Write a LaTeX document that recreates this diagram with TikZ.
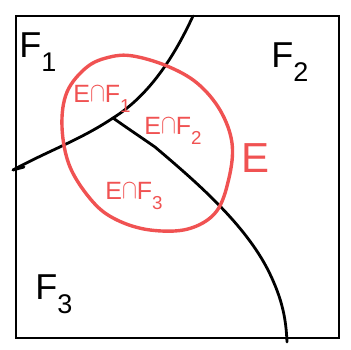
\documentclass[tikz,border=0pt]{standalone}
\usepackage{fontspec}
\setmainfont{Liberation Sans}
\newcommand\mysub[1]{\raisebox{-0.4em}{\fontsize{0.75em}{0.75em}\selectfont #1}}
\newcommand\mycap{\raisebox{0.05em}{\scalebox{0.9}[1.1]{$\cap$}}}
\begin{document}
\begin{tikzpicture}[x=1pt,y=-1pt,
  ink/.style={line width=2.8pt,line cap=round,line join=round},
  redink/.style={draw={rgb,255:red,240;green,82;blue,82},line width=3.4pt,line cap=round},
  blk/.style={font=\fontsize{36}{36}\selectfont,inner sep=0pt},
  rlab/.style={text={rgb,255:red,240;green,82;blue,82},font=\fontsize{25}{25}\selectfont,inner sep=0pt}]
\useasboundingbox (0,0) rectangle (351,350);
\node[draw,line width=2.4pt,minimum width=323pt,minimum height=322pt,anchor=north west,inner sep=0pt] (box) at (15,15) {};
\coordinate (a1) at (193,16);
\coordinate (a2) at (13,170);
\coordinate (j) at (113,118);
\coordinate (b2) at (287,342);
\draw[ink] (a1) .. controls (175,55) and (150,95) .. (j)
  .. controls (80,140) and (50,150) .. (a2);
\draw[ink] (13,170) -- (24,167);
\draw[ink] (j) .. controls (130,130) and (145,140) .. (155,147)
  .. controls (200,185) and (245,225) .. (268,270)
  .. controls (283,300) and (286,320) .. (b2);
\draw[redink] plot[smooth cycle,tension=0.6] coordinates {(133,56) (167,66) (197,83) (220,110) (232,143) (229,178) (216,212) (188,229) (150,230) (117,220) (93,202) (70,167) (62,127) (67,92) (87,67) (110,57)};
\node[blk] (f1) at (38,52) {F\mysub{1}};
\node[blk] (f2) at (290,62) {F\mysub{2}};
\node[blk] (f3) at (54,294) {F\mysub{3}};
\node[text={rgb,255:red,240;green,82;blue,82},font=\fontsize{42}{42}\selectfont,inner sep=0pt] (e) at (256,158) {E};
\node[rlab] (l1) at (102,99) {E\mycap F\mysub{1}};
\node[rlab] (l2) at (173,131) {E\mycap F\mysub{2}};
\node[rlab] (l3) at (134,196) {E\mycap F\mysub{3}};
\end{tikzpicture}
\end{document}
